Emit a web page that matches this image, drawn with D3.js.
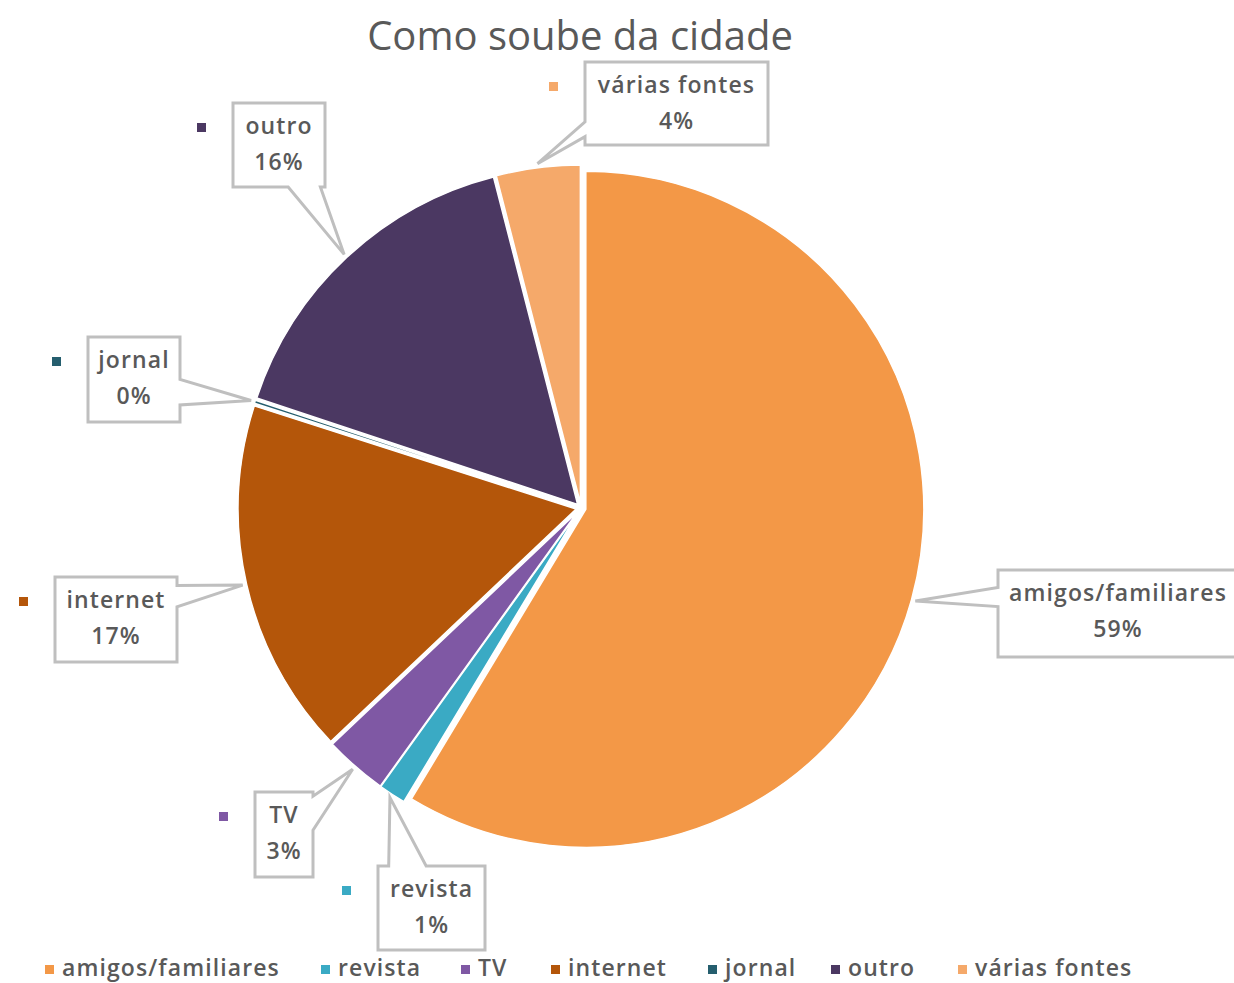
<!DOCTYPE html>
<html>
<head>
<meta charset="utf-8">
<script src="https://cdn.jsdelivr.net/npm/d3@7"></script>
<style>
  body { margin: 0; background: #fff; }
  svg text { font-family: "Open Sans", sans-serif; fill: #595959; }
  .lbl { font-size: 23px; font-weight: 600; letter-spacing: 1.1px; }
</style>
</head>
<body>
<div id="chart"></div>
<script>
// data
const categories = ["amigos/familiares", "revista", "TV", "internet", "jornal", "outro", "várias fontes"];
const shares = [58.6, 1.3, 3.0, 17.0, 0.15, 15.9, 4.0];
const colors = ["#F39847", "#3AAAC4", "#7F58A4", "#B4560A", "#255E6E", "#4B3862", "#F5A96A"];

// callout boxes: [x, y, w, h], side the pointer leaves from, base fractions along that side
const callouts = [
    { box: [998, 570, 240, 87], side: "left", b: [0.2, 0.42], key: false },
    { box: [378, 866, 107, 84], side: "top", b: [0.1, 0.45], key: true },
    { box: [255, 792, 58, 85], side: "right", b: [0.05, 0.45], key: true },
    { box: [55, 577, 122, 85], side: "right", b: [0.1, 0.35], key: true },
    { box: [88, 337, 92, 85], side: "right", b: [0.5, 0.8], key: true },
    { box: [233, 103, 92, 84], side: "bottom", b: [0.6, 0.95], key: true },
    { box: [585, 62, 183, 83], side: "left", b: [0.72, 0.9], key: true }
];

const width = 1234, height = 983;
const cx = 581, cy = 508, radius = 338, explode = 5;

const svg = d3.select("#chart").append("svg")
    .attr("width", width)
    .attr("height", height);

// title
svg.append("text")
    .attr("x", 580)
    .attr("y", 50)
    .attr("text-anchor", "middle")
    .style("font-size", "40px")
    .text("Como soube da cidade");

const rows = categories.map((c, i) => ({ name: c, value: shares[i], color: colors[i], co: callouts[i] }));

const pie = d3.pie().value(d => d.value).sort(null);
const arc = d3.arc().innerRadius(0).outerRadius(radius);
const arcs = pie(rows);

const g = svg.append("g").attr("transform", `translate(${cx}, ${cy})`);

g.selectAll("path.slice")
    .data(arcs)
    .enter()
    .append("path")
    .attr("class", "slice")
    .attr("d", arc)
    .attr("fill", d => d.data.color)
    .attr("stroke", "#fff")
    .attr("stroke-width", 1.5)
    .attr("transform", d => {
        const a = (d.startAngle + d.endAngle) / 2;
        return `translate(${explode * Math.sin(a)}, ${-explode * Math.cos(a)})`;
    });

// callout shape: rectangle with a wedge pointing at the slice
function calloutPath(box, side, b, tip) {
    const [x, y, w, h] = box;
    const [tx, ty] = tip;
    let pts;
    if (side === "left") {
        pts = [[x, y], [x + w, y], [x + w, y + h], [x, y + h], [x, y + h * b[1]], [tx, ty], [x, y + h * b[0]]];
    } else if (side === "right") {
        pts = [[x, y], [x + w, y], [x + w, y + h * b[0]], [tx, ty], [x + w, y + h * b[1]], [x + w, y + h], [x, y + h]];
    } else if (side === "top") {
        pts = [[x, y], [x + w * b[0], y], [tx, ty], [x + w * b[1], y], [x + w, y], [x + w, y + h], [x, y + h]];
    } else {
        pts = [[x, y], [x + w, y], [x + w, y + h], [x + w * b[1], y + h], [tx, ty], [x + w * b[0], y + h], [x, y + h]];
    }
    return "M" + pts.map(p => p.join(",")).join("L") + "Z";
}

const labels = svg.append("g");

arcs.forEach(d => {
    const co = d.data.co;
    const a = (d.startAngle + d.endAngle) / 2;
    const tr = radius + explode + 4;
    const tip = [cx + tr * Math.sin(a), cy - tr * Math.cos(a)];
    const [x, y, w, h] = co.box;

    labels.append("path")
        .attr("d", calloutPath(co.box, co.side, co.b, tip))
        .attr("fill", "#fff")
        .attr("stroke", "#BFBFBF")
        .attr("stroke-width", 3)
        .attr("stroke-linejoin", "miter");

    labels.append("text")
        .attr("class", "lbl")
        .attr("x", x + w / 2)
        .attr("y", y + 31)
        .attr("text-anchor", "middle")
        .text(d.data.name);

    labels.append("text")
        .attr("class", "lbl")
        .attr("x", x + w / 2)
        .attr("y", y + 67)
        .attr("text-anchor", "middle")
        .text(Math.round(d.data.value) + "%");

    if (co.key) {
        labels.append("rect")
            .attr("x", x - 36)
            .attr("y", y + 20)
            .attr("width", 9)
            .attr("height", 9)
            .attr("fill", d.data.color);
    }
});

// legend
const legendX = [45, 321, 461, 551, 708, 831, 958];
const legend = svg.append("g").attr("transform", "translate(0, 968)");
rows.forEach((d, i) => {
    legend.append("rect")
        .attr("x", legendX[i])
        .attr("y", -3)
        .attr("width", 9)
        .attr("height", 9)
        .attr("fill", d.color);
    legend.append("text")
        .attr("class", "lbl")
        .attr("x", legendX[i] + 17)
        .attr("y", 8)
        .text(d.name);
});
</script>
</body>
</html>
